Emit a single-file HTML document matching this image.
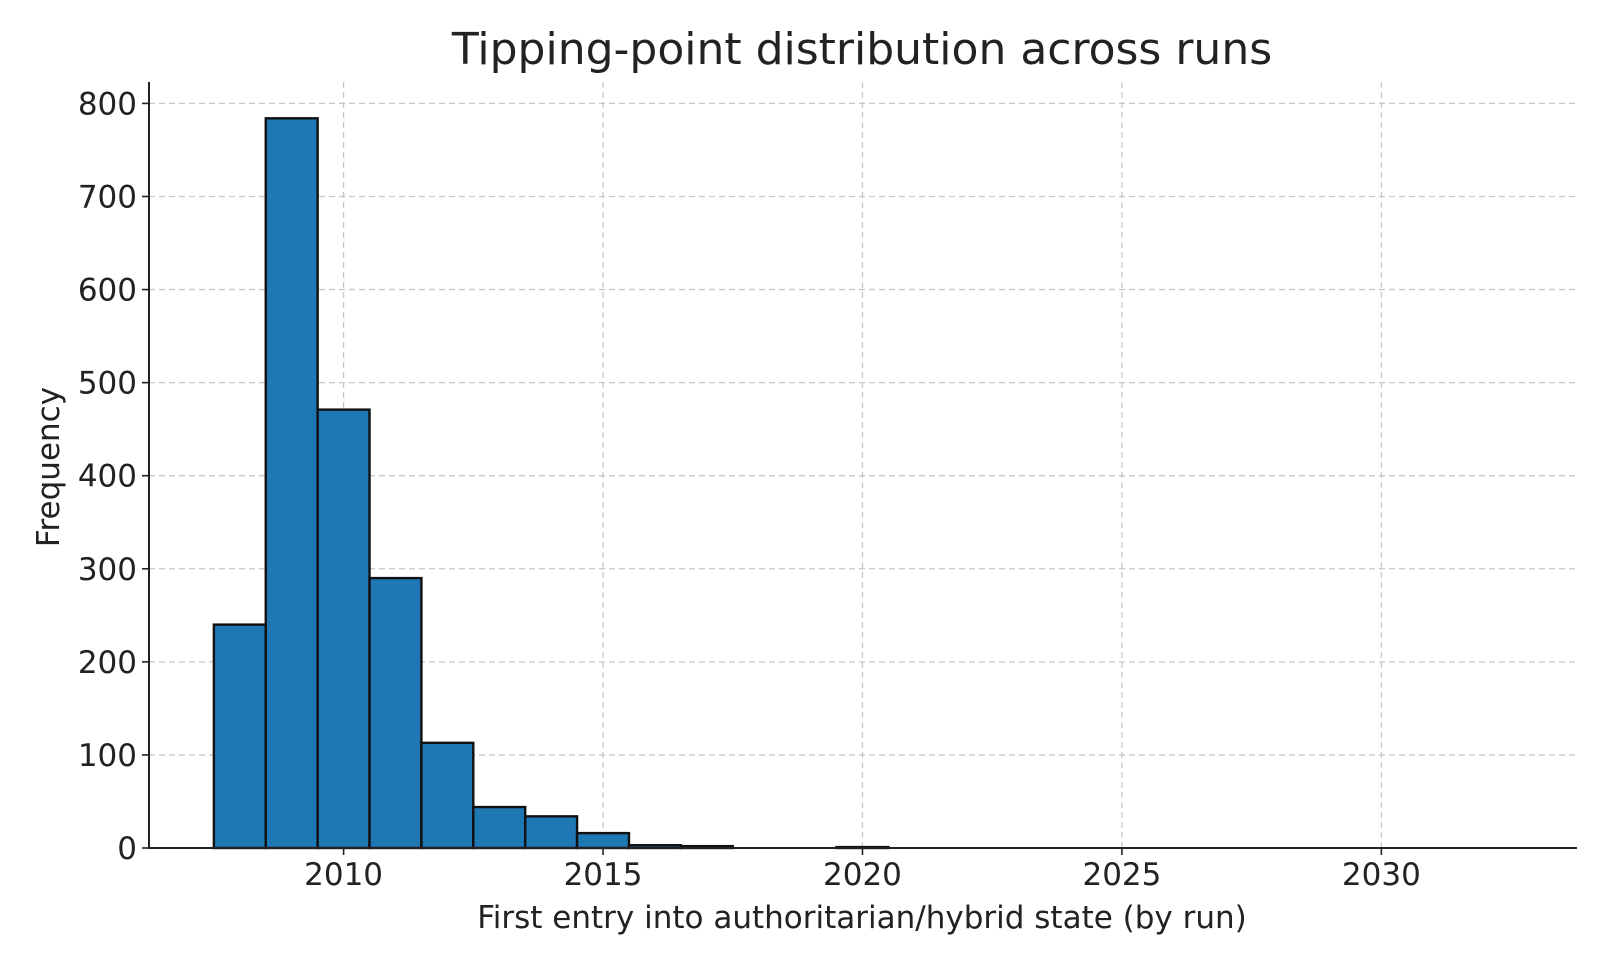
<!DOCTYPE html>
<html><head><meta charset="utf-8"><style>
body{margin:0;background:#fff;}
svg text{font-family:"DejaVu Sans","Liberation Sans",sans-serif;fill:#222;}
</style></head><body>
<svg id="chart" width="1600" height="960" viewBox="0 0 1600 960" xmlns="http://www.w3.org/2000/svg">
<rect width="1600" height="960" fill="#fff"/>
<text x="862" y="64" font-size="44" text-anchor="middle" fill="#333">Tipping-point distribution across runs</text>
<g id="grid"></g><g id="bars"></g><g id="axes"></g>
<text x="862" y="928" font-size="31" text-anchor="middle">First entry into authoritarian/hybrid state (by run)</text>
<text transform="translate(59,467) rotate(-90)" font-size="31" text-anchor="middle">Frequency</text>
</svg>
<script>
const binStart = 2007.5;
const binWidth = 1;
const counts = [240,784,471,290,113,44,34,16,3,2,0,0,1,0,0,0,0,0,0,0,0,0,0,0,0];
const xTicks = [2010,2015,2020,2025,2030];
const yTicks = [0,100,200,300,400,500,600,700,800];

const L=149,R=1577,T=82,B=848;
const xMin=2006.25,xMax=2033.77,yMax=823;
const xs=v=>L+(v-xMin)/(xMax-xMin)*(R-L);
const ys=v=>B-v/yMax*(B-T);
const NS="http://www.w3.org/2000/svg";
function mk(tag,attrs,parent){const e=document.createElementNS(NS,tag);for(const k in attrs)e.setAttribute(k,attrs[k]);parent.appendChild(e);return e;}
const grid=document.getElementById('grid'),bars=document.getElementById('bars'),axes=document.getElementById('axes');
xTicks.forEach(t=>{
  const g=mk('line',{x1:xs(t),x2:xs(t),y1:T,y2:B,stroke:'#c8c8c8','stroke-width':1.3,'stroke-dasharray':'6,4'},grid);
  
  
  const tk=mk('line',{x1:xs(t),x2:xs(t),y1:B,y2:B+7,stroke:'#222','stroke-width':1.6},axes);
  
  
  const lb=mk('text',{x:xs(t),y:B+37,'font-size':31,'text-anchor':'middle'},axes);
  lb.textContent=t;
  
  
});
yTicks.forEach(t=>{
  if(t>0){const g=mk('line',{x1:L,x2:R,y1:ys(t),y2:ys(t),stroke:'#c8c8c8','stroke-width':1.3,'stroke-dasharray':'6,4'},grid);
  
  }
  const tk=mk('line',{x1:L-7,x2:L,y1:ys(t),y2:ys(t),stroke:'#222','stroke-width':1.6},axes);
  
  
  const lb=mk('text',{x:L-12,y:ys(t)+11,'font-size':31,'text-anchor':'end'},axes);
  lb.textContent=t;
  
  
});
counts.forEach((c,i)=>{
  if(c<=0) return;
  const x0=xs(binStart+i*binWidth),x1=xs(binStart+(i+1)*binWidth);
  const r=mk('rect',{x:x0,y:ys(c),width:x1-x0,height:B-ys(c),fill:'#1f77b4',stroke:'#111','stroke-width':2.4},bars);
  
  
});
const ax=mk('path',{d:`M${L},${T}V${B}H${R}`,fill:'none',stroke:'#222','stroke-width':2},axes);


</script>
</body></html>
